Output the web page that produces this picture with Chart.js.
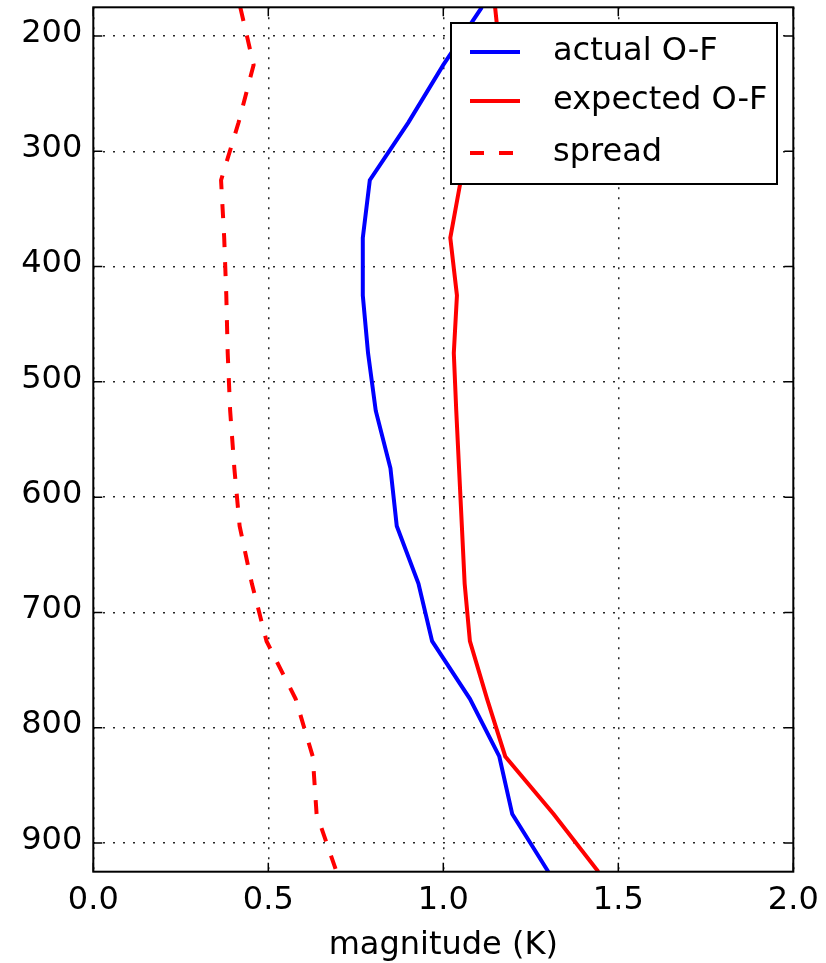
<!DOCTYPE html>
<html>
<head>
<meta charset="utf-8">
<script src="https://cdn.jsdelivr.net/npm/chart.js@4.4.1/dist/chart.umd.min.js"></script>
<style>
  html, body { margin: 0; padding: 0; background: #fff; }
  #plot { display: block; }
</style>
</head>
<body>
<canvas id="plot" width="826" height="963"></canvas>
<script>
const levels = [175, 225, 275, 325, 375, 425, 475, 525, 575, 625, 675, 725, 775, 825, 875, 925];
const actualOF = [1.11, 1.00, 0.90, 0.79, 0.77, 0.77, 0.785, 0.807, 0.849, 0.867, 0.929, 0.968, 1.076, 1.16, 1.197, 1.30];
const expectedOF = [1.148, 1.165, 1.11, 1.05, 1.02, 1.039, 1.030, 1.037, 1.045, 1.053, 1.061, 1.076, 1.125, 1.177, 1.315, 1.443];
const spread = [0.42, 0.458, 0.415, 0.365, 0.374, 0.380, 0.384, 0.391, 0.403, 0.418, 0.453, 0.495, 0.578, 0.627, 0.638, 0.695];
const xTicks = [0, 0.5, 1.0, 1.5, 2.0];
const yTicks = [200, 300, 400, 500, 600, 700, 800, 900];

const fontFamily = '"DejaVu Sans", sans-serif';
const fontSize = 32;
const dashPattern = [14, 15];

function toPoints(values) {
  return levels.map((p, i) => ({ x: values[i], y: p }));
}

// frame, inward tick marks on all four sides, legend box inside the axes
const framePlugin = {
  id: 'frame',
  afterDraw(chart) {
    const { ctx, chartArea: a, scales } = chart;
    const tl = 9;
    ctx.save();
    ctx.strokeStyle = '#000';
    ctx.lineWidth = 1.5;
    ctx.beginPath();
    xTicks.forEach(v => {
      const x = scales.x.getPixelForValue(v);
      ctx.moveTo(x, a.bottom); ctx.lineTo(x, a.bottom - tl);
      ctx.moveTo(x, a.top); ctx.lineTo(x, a.top + tl);
    });
    yTicks.forEach(v => {
      const y = scales.y.getPixelForValue(v);
      ctx.moveTo(a.left, y); ctx.lineTo(a.left + tl, y);
      ctx.moveTo(a.right, y); ctx.lineTo(a.right - tl, y);
    });
    ctx.stroke();
    ctx.lineWidth = 2;
    ctx.strokeRect(a.left, a.top, a.right - a.left, a.bottom - a.top);

    // legend
    const bx = 451, by = 23, bw = 326, bh = 161;
    ctx.fillStyle = '#fff';
    ctx.fillRect(bx, by, bw, bh);
    ctx.lineWidth = 2;
    ctx.strokeStyle = '#000';
    ctx.strokeRect(bx, by, bw, bh);
    const rows = [52, 101, 153];
    chart.data.datasets.forEach((ds, i) => {
      const y = rows[i];
      ctx.beginPath();
      ctx.strokeStyle = ds.borderColor;
      ctx.lineWidth = ds.borderWidth;
      ctx.setLineDash(ds.borderDash || []);
      ctx.moveTo(470, y); ctx.lineTo(520, y);
      ctx.stroke();
      ctx.setLineDash([]);
      ctx.fillStyle = '#000';
      ctx.font = fontSize + 'px ' + fontFamily;
      ctx.textAlign = 'left';
      ctx.textBaseline = 'middle';
      ctx.fillText(ds.label, 553, y);
    });
    ctx.restore();
  }
};

new Chart(document.getElementById('plot'), {
  type: 'scatter',
  data: {
    datasets: [
      { label: 'actual O-F', data: toPoints(actualOF), borderColor: '#0000ff', borderWidth: 4, order: 2 },
      { label: 'expected O-F', data: toPoints(expectedOF), borderColor: '#ff0000', borderWidth: 4, order: 1 },
      { label: 'spread', data: toPoints(spread), borderColor: '#ff0000', borderWidth: 4, borderDash: dashPattern, order: 0 }
    ].map(ds => Object.assign(ds, { showLine: true, pointRadius: 0, fill: false, tension: 0, borderCapStyle: 'butt' }))
  },
  options: {
    responsive: false,
    animation: false,
    layout: { padding: { left: 0, right: 32.7, top: 7.3, bottom: 0 } },
    plugins: { legend: { display: false }, tooltip: { enabled: false } },
    scales: {
      x: {
        type: 'linear',
        min: 0, max: 2,
        afterBuildTicks: s => { s.ticks = xTicks.map(v => ({ value: v })); },
        afterFit: s => { s.height = 91.3; s.paddingLeft = 0; s.paddingRight = 0; },
        ticks: {
          padding: 10,
          color: '#000',
          font: { family: fontFamily, size: fontSize },
          callback: v => v.toFixed(1)
        },
        grid: { color: 'rgba(0,0,0,0.85)', lineWidth: 1.5, drawTicks: false, tickLength: 0 },
        border: { display: false, dash: [2, 8] },
        title: {
          display: true,
          text: 'magnitude (K)',
          color: '#000',
          font: { family: fontFamily, size: fontSize },
          padding: { top: 0, bottom: -2 }
        }
      },
      y: {
        type: 'linear',
        reverse: true,
        min: 175, max: 925,
        afterBuildTicks: s => { s.ticks = yTicks.map(v => ({ value: v })); },
        afterFit: s => { s.width = 93.3; s.paddingTop = 0; s.paddingBottom = 0; },
        ticks: {
          padding: 11,
          labelOffset: -2.5,
          color: '#000',
          font: { family: fontFamily, size: fontSize }
        },
        grid: { color: 'rgba(0,0,0,0.85)', lineWidth: 1.5, drawTicks: false, tickLength: 0 },
        border: { display: false, dash: [2, 8] }
      }
    }
  },
  plugins: [framePlugin]
});
</script>
</body>
</html>
